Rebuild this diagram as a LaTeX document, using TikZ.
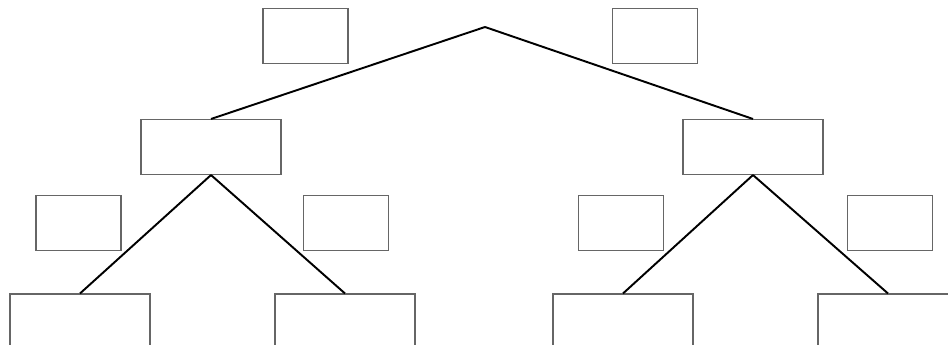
\documentclass[tikz,border=0pt]{standalone}
\usepackage{tikz}
\usetikzlibrary{positioning}
\tikzset{
  treebox/.style={rectangle, draw=gray!80!black, line width=0.6pt, minimum width=2.8cm, minimum height=1.1cm, inner sep=0pt},
  labelbox/.style={rectangle, draw=gray!80!black, line width=0.6pt, minimum width=1.7cm, minimum height=1.1cm, inner sep=0pt},
  branch/.style={draw=black, line width=1.1pt}
}
\begin{document}
\begin{tikzpicture}[x=0.02cm, y=-0.02cm]
    \useasboundingbox (0,0) rectangle (948,345);
    % Root point and first level
    \coordinate (root) at (485,27);
    \node[treebox] (L) at (211,147) {};
    \node[treebox] (R) at (753,147) {};
    % Second level (cut by the lower border)
    \node[treebox] (LL) at (80,321.5) {};
    \node[treebox] (LR) at (345,321.5) {};
    \node[treebox] (RL) at (623,321.5) {};
    \node[treebox] (RR) at (888,321.5) {};
    % Empty label boxes beside the branches
    \node[labelbox] (lblL) at (305.5,36) {};
    \node[labelbox] (lblR) at (655,36) {};
    \node[labelbox] (lblLL) at (78.5,223) {};
    \node[labelbox] (lblLR) at (346,223) {};
    \node[labelbox] (lblRL) at (621,223) {};
    \node[labelbox] (lblRR) at (890,223) {};
    % Branches
    \draw[branch] (root) -- (L.north);
    \draw[branch] (root) -- (R.north);
    \draw[branch] (L.south) -- (LL.north);
    \draw[branch] (L.south) -- (LR.north);
    \draw[branch] (R.south) -- (RL.north);
    \draw[branch] (R.south) -- (RR.north);
\end{tikzpicture}
\end{document}
